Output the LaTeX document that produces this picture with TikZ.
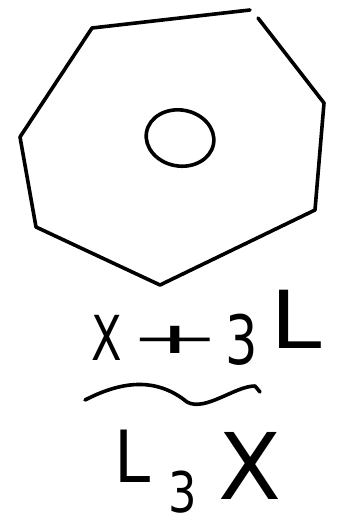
\documentclass[tikz,border=0pt]{standalone}
\usepackage{fontspec}
\setmainfont{DejaVu Sans}
\begin{document}
\begin{tikzpicture}[x=1pt,y=-1pt,
  stroke/.style={line width=3.6pt,line join=round,line cap=round},
  glyph/.style={inner sep=0pt,anchor=center,transform shape}]
\useasboundingbox (0,0) rectangle (338,525);
% heptagon
\coordinate (v1) at (92,28);
\coordinate (v2) at (250,10);
\coordinate (v2b) at (258,18);
\coordinate (v3) at (324,103);
\coordinate (v4) at (315,210);
\coordinate (v5) at (160,285);
\coordinate (v6) at (36,227);
\coordinate (v7) at (20,137);
\draw[stroke] (v2b) -- (v3) -- (v4) -- (v5) -- (v6) -- (v7) -- (v1) -- (v2);
\coordinate (c) at (180,138);
\draw[stroke,rotate around={-10:(c)}] (c) ellipse [x radius=34, y radius=28];
% top line
\begin{scope}[shift={(107,338)},xscale=0.72]
\node[glyph,font=\fontsize{62}{62}\selectfont] (x1) at (0,0) {X};
\end{scope}
\begin{scope}[shift={(175,340)},xscale=1.8,yscale=0.7]
\node[glyph,font=\fontsize{62}{62}\selectfont] (p1) at (0,0) {+};
\end{scope}
\begin{scope}[shift={(242,340)},xscale=0.75]
\node[glyph,font=\fontsize{68}{68}\selectfont] (t1) at (0,0) {3};
\end{scope}
\begin{scope}[shift={(296,319)},xscale=1.15]
\node[glyph,font=\fontsize{80}{80}\selectfont] (l1) at (0,0) {L};
\end{scope}
% wavy line
\coordinate (w1) at (85,400);
\coordinate (w2) at (187,402);
\coordinate (w3) at (255,386);
\coordinate (w4) at (260,392);
\draw[stroke] (w1) .. controls (120,382) and (155,376) .. (w2) .. controls (205,412) and (235,386) .. (w3) -- (w4);
% bottom line
\begin{scope}[shift={(133,456)},xscale=0.9]
\node[glyph,font=\fontsize{72}{72}\selectfont] (l2) at (0,0) {L};
\end{scope}
\begin{scope}[shift={(183,492)},xscale=0.8]
\node[glyph,font=\fontsize{56}{56}\selectfont] (t2) at (0,0) {3};
\end{scope}
\node[glyph,font=\fontsize{92}{92}\selectfont] (x2) at (250,466) {X};
\end{tikzpicture}
\end{document}
